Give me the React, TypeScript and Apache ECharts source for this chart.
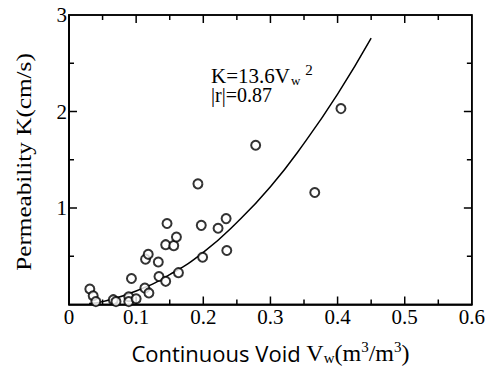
import React, { useEffect, useRef } from "react";
import * as echarts from "echarts";

// Measured points: continuous void Vw (m3/m3) vs permeability K (cm/s)
const voidRatio = [
  0.031, 0.036, 0.040, 0.066, 0.070, 0.089, 0.089, 0.100, 0.093, 0.113,
  0.119, 0.114, 0.118, 0.133, 0.134, 0.144, 0.144, 0.146, 0.156, 0.160,
  0.163, 0.192, 0.197, 0.199, 0.222, 0.234, 0.235, 0.278, 0.366, 0.405,
];
const permeability = [
  0.16, 0.09, 0.03, 0.05, 0.03, 0.08, 0.03, 0.06, 0.27, 0.17,
  0.12, 0.47, 0.52, 0.44, 0.29, 0.24, 0.62, 0.84, 0.61, 0.70,
  0.33, 1.25, 0.82, 0.49, 0.79, 0.89, 0.56, 1.65, 1.16, 2.03,
];

// Fitted curve K = 13.6 Vw^2
const curveX = [0.03, 0.05, 0.1, 0.15, 0.2, 0.25, 0.3, 0.35, 0.4, 0.45];
const curveY = [0.01, 0.03, 0.14, 0.31, 0.54, 0.85, 1.22, 1.67, 2.18, 2.76];

// Tick labels and tick-mark positions
const xTickLabels = ["0", "0.1", "0.2", "0.3", "0.4", "0.5", "0.6"];
const yTickLabels = ["0", "1", "2", "3"];
const xTickMarks = [0.05, 0.1, 0.15, 0.2, 0.25, 0.3, 0.35, 0.4, 0.45, 0.5, 0.55];
const yTickMarks = [0.5, 1, 1.5, 2, 2.5];

const X_MIN = 0, X_MAX = 0.6, Y_MIN = 0, Y_MAX = 3;

const SERIF = "'Liberation Serif', 'Times New Roman', serif";
const SANS = "'Open Sans', 'Noto Sans', sans-serif";

export default function App() {
  const ref = useRef<HTMLDivElement>(null);

  useEffect(() => {
    document.body.style.margin = "0";
    if (!ref.current) return;
    const chart = echarts.init(ref.current, undefined, { renderer: "svg" });

    const black = { color: "#000", width: 1.5 };
    const stroke = { stroke: "#000", lineWidth: 1.5 };

    const isMajor = (v: number, step: number) =>
      Math.abs(v / step - Math.round(v / step)) < 1e-6;

    const frameRender = (_params: any, api: any) => {
      const p0 = api.coord([X_MIN, Y_MIN]);
      const p1 = api.coord([X_MAX, Y_MAX]);
      const children: any[] = [
        {
          type: "rect",
          shape: { x: p0[0], y: p1[1], width: p1[0] - p0[0], height: p0[1] - p1[1] },
          style: { fill: "transparent", ...stroke },
        },
      ];
      xTickMarks.forEach((v) => {
        const len = isMajor(v, 0.1) ? 8 : 5;
        const b = api.coord([v, Y_MIN]);
        const t = api.coord([v, Y_MAX]);
        children.push({ type: "line", shape: { x1: b[0], y1: b[1], x2: b[0], y2: b[1] - len }, style: stroke });
        children.push({ type: "line", shape: { x1: t[0], y1: t[1], x2: t[0], y2: t[1] + len }, style: stroke });
      });
      yTickMarks.forEach((v) => {
        const len = isMajor(v, 1) ? 8 : 5;
        const l = api.coord([X_MIN, v]);
        const r = api.coord([X_MAX, v]);
        children.push({ type: "line", shape: { x1: l[0], y1: l[1], x2: l[0] + len, y2: l[1] }, style: stroke });
        children.push({ type: "line", shape: { x1: r[0], y1: r[1], x2: r[0] - len, y2: r[1] }, style: stroke });
      });
      return { type: "group", children };
    };

    chart.setOption({
      animation: false,
      backgroundColor: "#fff",
      grid: {
        left: 69,
        right: 15,
        top: 15,
        bottom: 66,
        show: true,
        borderColor: "#000",
        borderWidth: 1.5,
      },
      xAxis: {
        type: "value",
        min: X_MIN,
        max: X_MAX,
        interval: 0.1,
        axisLine: { show: true, onZero: false, lineStyle: black },
        axisTick: { show: false },
        splitLine: { show: false },
        axisLabel: {
          show: true,
          color: "#000",
          fontFamily: SERIF,
          fontSize: 21,
          margin: 2,
          formatter: (v: number) => xTickLabels[Math.round(v * 10)] ?? String(v),
        },
        name: "{a|Continuous Void }{v|V}{sub|w}{b|(m}{sup|3}{b|/m}{sup|3}{b|)}",
        nameLocation: "middle",
        nameGap: 36,
        nameTextStyle: {
          rich: {
            a: { fontFamily: SANS, fontSize: 22, lineHeight: 24, color: "#000" },
            v: { fontFamily: SERIF, fontSize: 24, lineHeight: 24, color: "#000" },
            b: { fontFamily: SERIF, fontSize: 24, lineHeight: 24, color: "#000" },
            sub: { fontFamily: SERIF, fontSize: 15, lineHeight: 10, padding: [10, 0, 0, 0], color: "#000" },
            sup: { fontFamily: SERIF, fontSize: 15, lineHeight: 10, padding: [0, 0, 12, 0], color: "#000" },
          },
        },
      },
      yAxis: {
        type: "value",
        min: Y_MIN,
        max: Y_MAX,
        interval: 1,
        axisLine: { show: true, onZero: false, lineStyle: black },
        axisTick: { show: false },
        splitLine: { show: false },
        axisLabel: {
          show: true,
          showMinLabel: false,
          color: "#000",
          fontFamily: SERIF,
          fontSize: 21,
          margin: 2,
          formatter: (v: number) => yTickLabels[Math.round(v)] ?? String(v),
        },
      },
      graphic: [
        {
          type: "text",
          x: 24,
          y: 162,
          rotation: Math.PI / 2,
          scaleX: 1.2,
          style: {
            text: "Permeability K(cm/s)",
            font: `21px ${SERIF}`,
            fill: "#000",
            align: "center",
            verticalAlign: "middle",
          },
        },
        {
          type: "text",
          x: 211,
          y: 65,
          style: {
            text: "{m|K=13.6V}{sub|w}{sup|2}\n{n||r|=0.87}",
            fill: "#000",
            align: "left",
            verticalAlign: "top",
            rich: {
              m: { fontFamily: SERIF, fontSize: 21, lineHeight: 22, fill: "#000" },
              n: { fontFamily: SERIF, fontSize: 20, lineHeight: 16, fill: "#000" },
              sub: { fontFamily: SERIF, fontSize: 13, lineHeight: 10, padding: [8, 1, 0, 1], fill: "#000" },
              sup: { fontFamily: SERIF, fontSize: 15, lineHeight: 10, padding: [0, 0, 12, 4], fill: "#000" },
            },
          },
        },
      ],
      series: [
        {
          type: "custom",
          renderItem: frameRender,
          data: [[X_MIN, Y_MIN]],
          silent: true,
          clip: false,
          z: 1,
        },
        {
          type: "line",
          data: curveX.map((x, i) => [x, curveY[i]]),
          smooth: true,
          showSymbol: false,
          symbol: "none",
          lineStyle: { color: "#000", width: 1.5 },
          z: 2,
        },
        {
          type: "scatter",
          data: voidRatio.map((x, i) => [x, permeability[i]]),
          symbol: "circle",
          symbolSize: 9,
          itemStyle: { color: "#fff", borderColor: "#000", borderWidth: 2 },
          z: 3,
        },
      ],
    });

    return () => chart.dispose();
  }, []);

  return <div ref={ref} style={{ width: 488, height: 371 }} />;
}
